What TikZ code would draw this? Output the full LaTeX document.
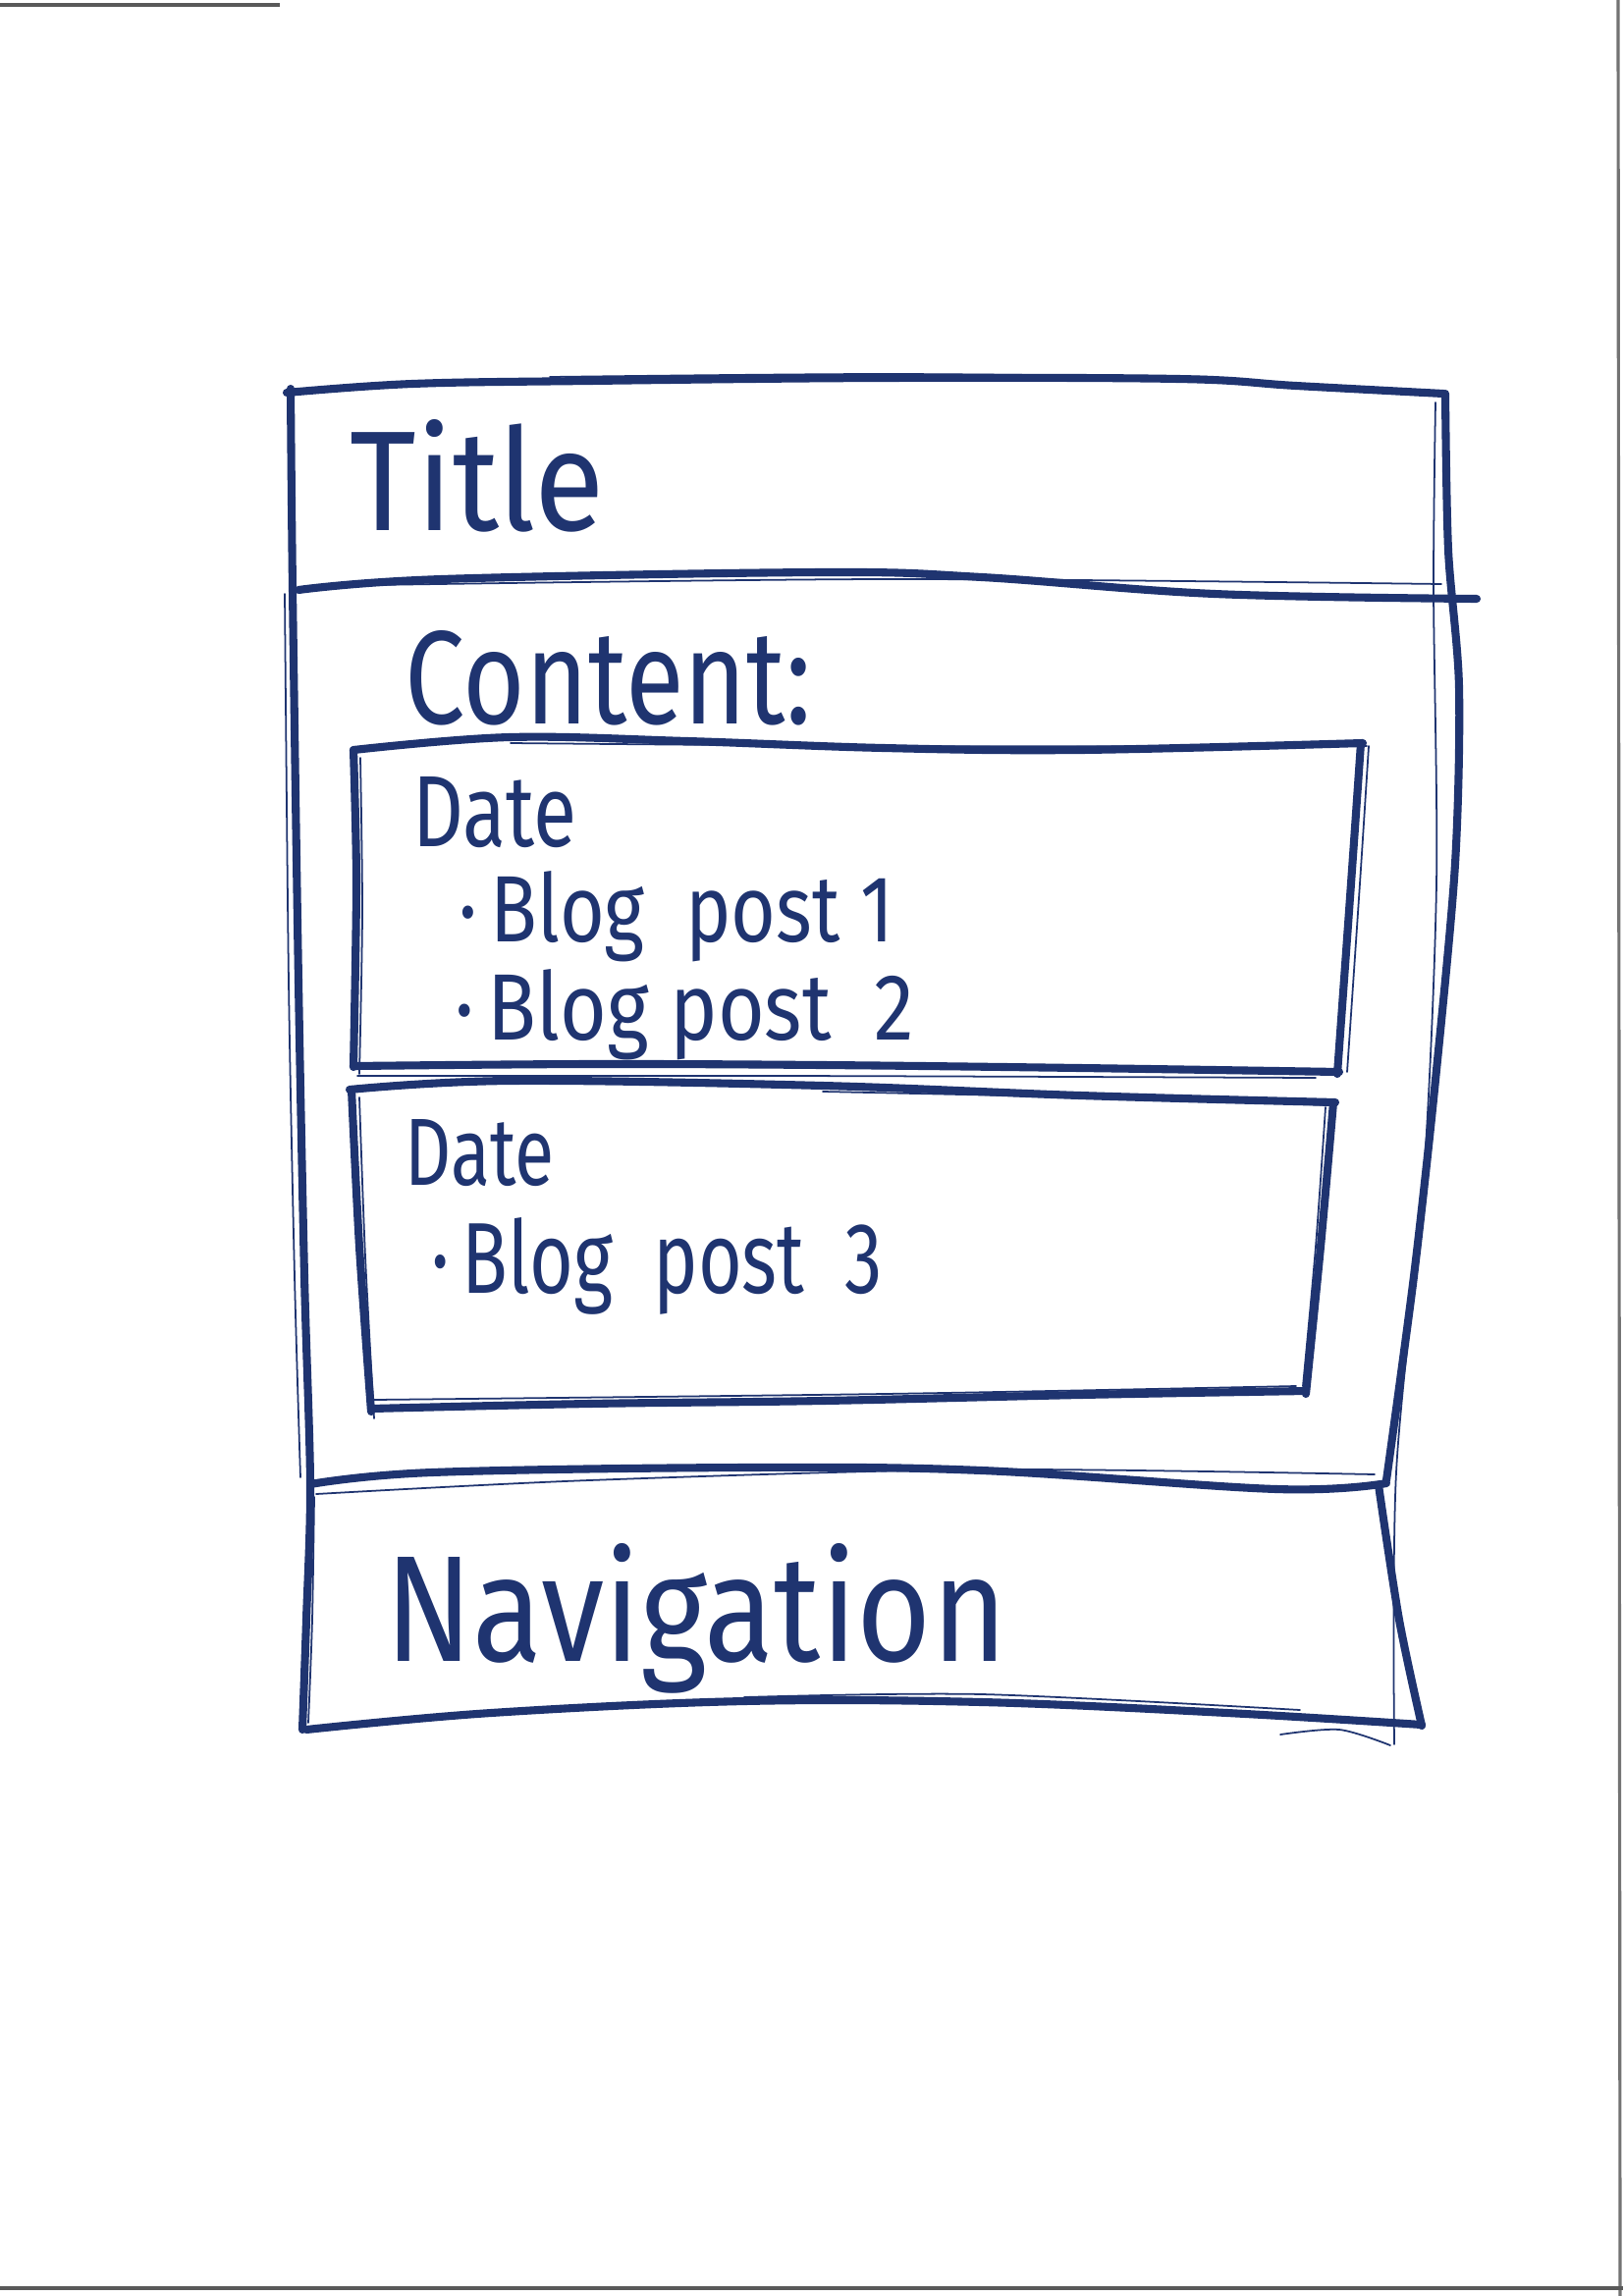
\documentclass[tikz,border=0pt]{standalone}
\usepackage{fontspec}
\setmainfont{Fira Sans}
\definecolor{ink}{RGB}{31,52,112}
\newlength\pxu
\setlength\pxu{0.01cm}
\newcommand\hw[3]{\resizebox{#1\pxu}{#2\pxu}{#3}}
\begin{document}
\begin{tikzpicture}[x=0.01cm,y=-0.01cm,
  thickline/.style={draw=ink,line width=2.3pt,line cap=round,line join=round},
  thinline/.style={draw=ink,line width=0.5pt,line cap=round,line join=round},
  hand/.style={text=ink,inner sep=0pt,anchor=base west},
  paperedge/.style={draw=black!65,line width=0.9pt}]
\fill[white] (0,0) rectangle (1653,2339);
\useasboundingbox (0,0) rectangle (1653,2339);

% paper edges
\draw[paperedge] (0,5) -- (285,5);
\draw[paperedge,draw=black!55] (1648,0) -- (1650,2339);
\draw[paperedge] (0,2331) -- (1653,2331);

% ---- outer frame ----
% title top
\draw[thickline] plot[smooth,tension=0.6] coordinates {(292,400) (420,391) (600,388) (900,385) (1200,386) (1320,393) (1470,401)};
\draw[thinline] plot[smooth] coordinates {(560,384) (900,381) (1240,384)};
% left side
\draw[thickline] plot[smooth,tension=0.5] coordinates {(296,396) (298,600) (304,1000) (310,1300) (316,1512) (312,1650) (308,1762)};
\draw[thinline] plot[smooth] coordinates {(290,605) (294,1000) (300,1300) (306,1505)};
\draw[thinline] plot[smooth] coordinates {(320,1525) (318,1650) (314,1755)};
% right side
\draw[thickline] plot[smooth,tension=0.5] coordinates {(1472,401) (1475,560) (1486,700) (1482,880) (1462,1100) (1440,1300) (1412,1508)};
\draw[thickline] plot[smooth,tension=0.5] coordinates {(1404,1513) (1425,1650) (1448,1758)};
\draw[thinline] plot[smooth] coordinates {(1462,410) (1460,600) (1463,900) (1450,1200) (1422,1500) (1420,1777)};
% title bottom / content top
\draw[thickline] plot[smooth,tension=0.6] coordinates {(304,601) (450,590) (838,583) (1000,588) (1237,605) (1504,610)};
\draw[thinline] plot[smooth] coordinates {(312,597) (900,590) (1468,595)};
% content bottom / navigation top
\draw[thickline] plot[smooth,tension=0.6] coordinates {(316,1512) (440,1500) (758,1495) (1000,1498) (1300,1517) (1412,1511)};
\draw[thinline] plot[smooth] coordinates {(322,1522) (600,1508) (1000,1497) (1400,1502)};
% navigation bottom
\draw[thickline] plot[smooth,tension=0.6] coordinates {(312,1762) (500,1745) (758,1733) (1000,1734) (1250,1745) (1448,1757)};
\draw[thinline] plot[smooth] coordinates {(758,1729) (1000,1726) (1324,1742)};
\draw[thinline] plot[smooth] coordinates {(1304,1767) (1364,1762) (1416,1778)};

% ---- inner box 1 ----
\draw[thickline] plot[smooth,tension=0.6] coordinates {(360,764) (519,751) (700,755) (900,762) (1100,764) (1388,757)};
\draw[thinline] plot[smooth] coordinates {(520,757) (900,760) (1392,760)};
\draw[thickline] plot[smooth] coordinates {(1386,757) (1376,900) (1362,1094)};
\draw[thinline] plot[smooth] coordinates {(1394,760) (1385,900) (1372,1092)};
\draw[thickline] plot[smooth,tension=0.6] coordinates {(360,1086) (600,1084) (838,1085) (1100,1088) (1364,1092)};
\draw[thinline] plot[smooth] coordinates {(364,1096) (800,1096) (1340,1098)};
\draw[thickline] plot[smooth] coordinates {(360,764) (363,900) (360,1087)};
\draw[thinline] plot[smooth] coordinates {(367,772) (369,930) (366,1094)};

% ---- inner box 2 ----
\draw[thickline] plot[smooth,tension=0.6] coordinates {(356,1110) (520,1101) (838,1106) (1100,1116) (1360,1123)};
\draw[thinline] plot[smooth] coordinates {(838,1112) (1200,1120) (1352,1126)};
\draw[thickline] plot[smooth] coordinates {(1358,1123) (1345,1270) (1330,1420)};
\draw[thinline] plot[smooth] coordinates {(1350,1128) (1340,1270) (1327,1412)};
\draw[thickline] plot[smooth,tension=0.6] coordinates {(378,1435) (600,1430) (838,1427) (1100,1421) (1330,1417)};
\draw[thinline] plot[smooth] coordinates {(380,1426) (900,1420) (1320,1412)};
\draw[thickline] plot[smooth] coordinates {(358,1110) (366,1270) (378,1438)};
\draw[thinline] plot[smooth] coordinates {(366,1118) (372,1280) (381,1445)};

% ---- texts ----
\node[hand] (title) at (356,540) {\hw{259}{113}{Title}};
\node[hand] (content) at (412,737) {\hw{414}{95}{Content:}};
\node[hand] (date1) at (420,862) {\hw{167}{71}{Date}};
\node[hand] (post1) at (467,959) {\hw{443}{72}{·\,Blog\ \ post 1}};
\node[hand] (post2) at (463,1059) {\hw{467}{72}{·\,Blog post\ \ 2}};
\node[hand] (date2) at (412,1207) {\hw{152}{67}{Date}};
\node[hand] (post3) at (439,1317) {\hw{459}{77}{·\,Blog\ \ post\ \ 3}};
\node[hand] (nav) at (392,1692) {\hw{633}{120}{Navigation}};
\end{tikzpicture}
\end{document}
